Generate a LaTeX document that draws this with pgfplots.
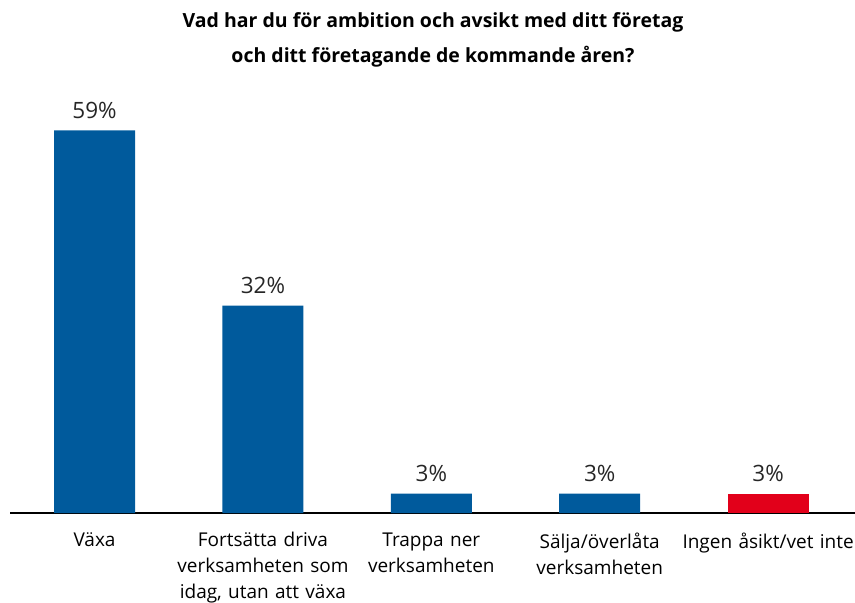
\documentclass[border=0pt]{standalone}
\usepackage{pgfplots}
\pgfplotsset{compat=1.18}
\usepackage{fontspec}
\setmainfont{Open Sans}
\definecolor{barblue}{HTML}{005A9C}
\definecolor{barred}{HTML}{E2001A}
\begin{document}
\begin{tikzpicture}
\useasboundingbox (0,0) rectangle (855bp,603bp);
\node[align=center,font=\fontsize{19.5bp}{35bp}\selectfont\bfseries] at (433bp,563.5bp) {Vad har du för ambition och avsikt med ditt företag\\och ditt företagande de kommande åren?};
\begin{axis}[
  at={(10bp,90bp)}, anchor=south west,
  scale only axis, width=845bp, height=413bp,
  xmin=-0.502, xmax=4.516, ymin=0, ymax=63.7,
  axis x line*=bottom, axis y line=none,
  x axis line style={line width=2.5bp,-},
  ybar, bar width=81bp, bar shift=0pt,
  xtick={0,1,2,3,4}, major tick length=0pt,
  xticklabels={Växa,{Fortsätta driva\\verksamheten som\\idag, utan att växa},{Trappa ner\\verksamheten},{Sälja/överlåta\\verksamheten},{Ingen åsikt/vet inte}},
  xticklabel style={font=\fontsize{19bp}{26bp}\selectfont, text width=200bp, align=center, anchor=north, yshift=-16bp},
  nodes near coords={\pgfmathprintnumber{\pgfplotspointmeta}\%},
  every node near coord/.append style={font=\fontsize{22.5bp}{24bp}\selectfont, anchor=base, inner sep=0pt, yshift=12bp, text=black!85},
  /pgf/number format/assume math mode=true,
  clip=false,
]
\addplot[fill=barblue, draw=none] coordinates {(0,59) (1,32) (2,3) (3,3)};
\addplot[fill=barred, draw=none] coordinates {(4,3)};
\end{axis}
\end{tikzpicture}
\end{document}
